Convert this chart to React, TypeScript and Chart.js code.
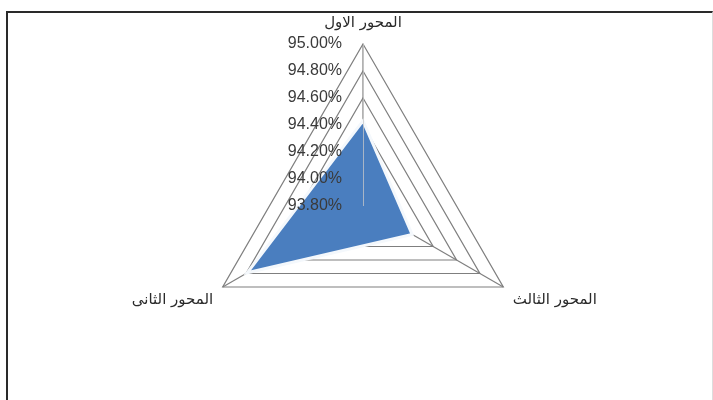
import React, { useEffect, useRef } from "react";
import { Chart, registerables } from "chart.js";

Chart.register(...registerables);

// Categories in clockwise order starting at the top (as drawn in the reference)
const categories = ["المحور الاول", "المحور الثالث", "المحور الثانى"];
const seriesValues = [94.43, 94.22, 94.79];
const tickMin = 93.8;
const tickMax = 95.0;
const tickStep = 0.2;

const leftTickLabels = {
  id: "leftTickLabels",
  afterDatasetsDraw(chart: any) {
    const s = chart.scales.r;
    const ctx = chart.ctx;
    ctx.save();
    const apex = s.getPointPositionForValue(0, s.max);
    ctx.strokeStyle = "rgba(200,200,200,0.75)";
    ctx.lineWidth = 1;
    ctx.beginPath();
    ctx.moveTo(s.xCenter + 0.5, s.yCenter);
    ctx.lineTo(apex.x + 0.5, apex.y);
    ctx.stroke();
    ctx.font = '16px "Liberation Sans", Arial, sans-serif';
    ctx.fillStyle = "#3a3a3a";
    ctx.textAlign = "right";
    ctx.textBaseline = "middle";
    s.ticks.forEach((t: any) => {
      const p = s.getPointPositionForValue(0, t.value);
      ctx.fillText(Number(t.value).toFixed(2) + "%", p.x - 21, p.y);
    });
    ctx.restore();
  },
};

export default function App() {
  const ref = useRef<HTMLCanvasElement | null>(null);
  useEffect(() => {
    if (!ref.current) return;
    const chart = new Chart(ref.current, {
      type: "radar",
      data: {
        labels: categories,
        datasets: [
          {
            data: seriesValues,
            backgroundColor: "#4a7ebf",
            borderColor: "#f4f8fc",
            borderWidth: 3,
            pointRadius: 0,
            fill: true,
          },
        ],
      },
      options: {
        responsive: false,
        animation: false,
        devicePixelRatio: 1,
        plugins: { legend: { display: false }, tooltip: { enabled: false } },
        layout: { padding: 0 },
        scales: {
          r: {
            min: tickMin,
            max: tickMax,
            beginAtZero: false,
            ticks: { stepSize: tickStep, display: false },
            grid: { color: "#7f7f7f", lineWidth: 1.2 },
            angleLines: { display: true, color: "#7f7f7f", lineWidth: 1.2 },
            pointLabels: {
              display: true,
              color: "#2a2a2a",
              font: { family: '"DejaVu Sans", sans-serif', size: 15, lineHeight: 1 },
              padding: (ctx: any) => (ctx.index === 0 ? 13 : 11),
            },
          },
        },
      },
      plugins: [leftTickLabels],
    });
    return () => chart.destroy();
  }, []);

  return (
    <div
      style={{
        position: "absolute",
        left: 0,
        top: 0,
        width: 713,
        height: 400,
        overflow: "hidden",
        background: "#fff",
      }}
    >
      <div
        style={{
          position: "absolute",
          left: 6,
          top: 11,
          width: 704,
          height: 400,
          borderTop: "2px solid #2a2a2a",
          borderLeft: "2px solid #2a2a2a",
          borderRight: "1px solid #dddddd",
        }}
      />
      <canvas
        ref={ref}
        width={710}
        height={380}
        style={{ position: "absolute", left: 8, top: 2 }}
      />
    </div>
  );
}
